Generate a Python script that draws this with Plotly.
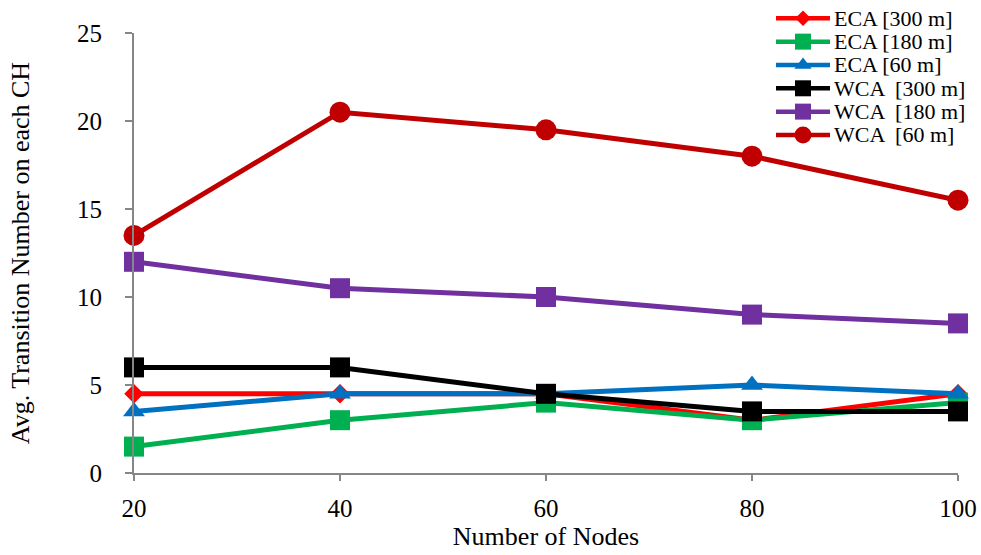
import plotly.graph_objects as go

nodes = [20, 40, 60, 80, 100]

eca_300 = [4.5, 4.5, 4.5, 3.0, 4.5]
eca_180 = [1.5, 3.0, 4.0, 3.0, 4.0]
eca_60 = [3.5, 4.5, 4.5, 5.0, 4.5]
wca_300 = [6.0, 6.0, 4.5, 3.5, 3.5]
wca_180 = [12.0, 10.5, 10.0, 9.0, 8.5]
wca_60 = [13.5, 20.5, 19.5, 18.0, 15.5]

series_names = ["ECA [300 m]", "ECA [180 m]", "ECA [60 m]",
                "WCA  [300 m]", "WCA  [180 m]", "WCA  [60 m]"]
series_values = [eca_300, eca_180, eca_60, wca_300, wca_180, wca_60]
colors = ["#ff0000", "#00b050", "#0070c0", "#000000", "#7030a0", "#c00000"]
symbols = ["diamond", "square", "triangle-up", "square", "square", "circle"]
sizes = [15, 20, 19, 20, 20, 21]

W, H = 981, 555
# plot-area edges in pixels
left, right, top, bottom = 134, 958, 33, 473

font_family = "Liberation Serif, Times New Roman, serif"
axis_gray = "#868686"

fig = go.Figure()
for name, vals, color, symbol, size in zip(series_names, series_values, colors, symbols, sizes):
    fig.add_trace(go.Scatter(
        x=nodes, y=vals, name=name, mode="lines+markers",
        line=dict(color=color, width=5),
        marker=dict(symbol=symbol, size=size, color=color),
        cliponaxis=False, showlegend=False,
        xaxis="x", yaxis="y",
    ))

# legend drawn in its own small subplot: one row per series
row_h = 23.33
leg_top = 18.3 - row_h / 2
leg_bottom = leg_top + row_h * len(series_names)
for i, (name, color, symbol, size) in enumerate(zip(series_names, colors, symbols, sizes)):
    fig.add_trace(go.Scatter(
        x=[0, 1], y=[i, i], mode="lines",
        line=dict(color=color, width=4.5),
        cliponaxis=False, showlegend=False, hoverinfo="skip",
        xaxis="x2", yaxis="y2",
    ))
    fig.add_trace(go.Scatter(
        x=[0.5], y=[i], mode="markers",
        marker=dict(symbol=symbol, size=round(size * 0.8), color=color),
        cliponaxis=False, showlegend=False, hoverinfo="skip",
        xaxis="x2", yaxis="y2",
    ))
    fig.add_annotation(
        x=1, y=i, xref="x2", yref="y2", text=name, showarrow=False,
        xanchor="left", yanchor="middle", xshift=2,
        font=dict(size=22, family=font_family, color="black"),
    )

fig.update_layout(
    width=W, height=H,
    margin=dict(l=0, r=0, t=0, b=0, autoexpand=False),
    paper_bgcolor="white", plot_bgcolor="rgba(0,0,0,0)",
    font=dict(family=font_family, color="black", size=25),
    showlegend=False,
    xaxis=dict(
        domain=[left / W, right / W], automargin=False,
        range=[20, 100], tickvals=nodes, ticks="outside", ticklen=6,
        tickcolor=axis_gray, tickwidth=1.5,
        showline=True, linecolor=axis_gray, linewidth=2,
        showgrid=False, zeroline=False,
        tickfont=dict(size=25), ticklabelstandoff=6,
        title=dict(text="Number of Nodes", font=dict(size=26), standoff=0),
    ),
    yaxis=dict(
        domain=[(H - bottom) / H, (H - top) / H], automargin=False,
        range=[0, 25], tickvals=[0, 5, 10, 15, 20, 25], ticks="outside", ticklen=7,
        tickcolor=axis_gray, tickwidth=1.5,
        showline=True, linecolor=axis_gray, linewidth=2,
        showgrid=False, zeroline=False,
        tickfont=dict(size=25), ticklabelstandoff=18,
        title=dict(text="Avg. Transition Number on each CH", font=dict(size=26), standoff=40),
    ),
    xaxis2=dict(
        domain=[776 / W, 830 / W], range=[0, 1], visible=False, fixedrange=True,
        automargin=False,
    ),
    yaxis2=dict(
        domain=[(H - leg_bottom) / H, (H - leg_top) / H], automargin=False,
        range=[len(series_names) - 0.5, -0.5], visible=False, fixedrange=True,
    ),
)

fig.write_html("out.html")
